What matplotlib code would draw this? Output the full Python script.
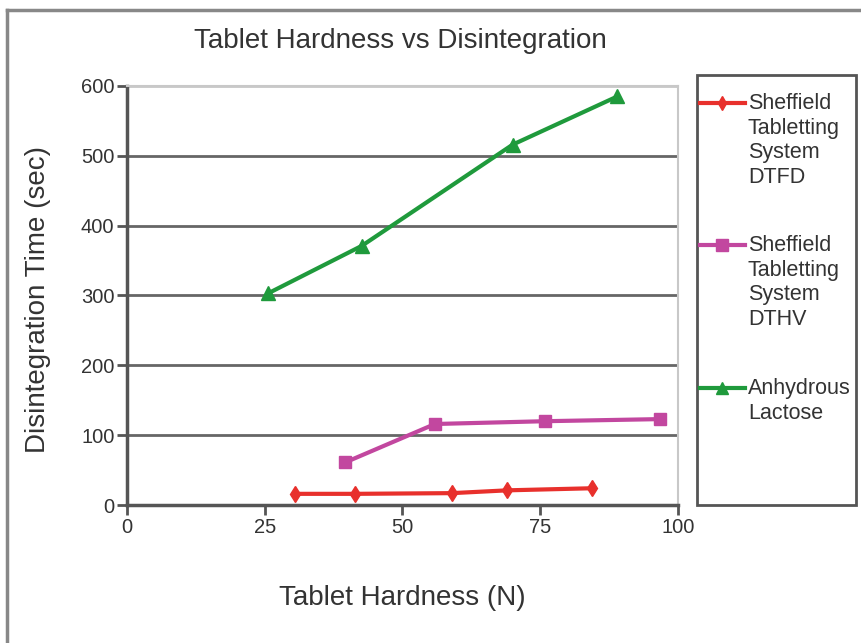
import matplotlib.pyplot as plt
from matplotlib.lines import Line2D
from matplotlib.patches import Rectangle

plt.rcParams["font.family"] = ["Liberation Sans", "DejaVu Sans"]

# hardness (N) and disintegration time (sec) for each formulation
dtfd_x = [30.5, 41.4, 59.0, 69.0, 84.4]
dtfd_y = [16, 16, 17, 21, 24]
dthv_x = [39.6, 55.9, 75.9, 96.7]
dthv_y = [61, 116, 120, 123]
lact_x = [25.6, 42.6, 70.0, 89.0]
lact_y = [303, 371, 516, 585]

labels = ["Sheffield\nTabletting\nSystem\nDTFD",
          "Sheffield\nTabletting\nSystem\nDTHV",
          "Anhydrous\nLactose"]
colors = ["#e8302c", "#c2479f", "#1f9a3c"]
markers = ["d", "s", "^"]
msizes = [8, 9, 10]

txt = "#333333"
W, H = 862, 643
fig = plt.figure(figsize=(W / 100, H / 100), dpi=100)
ax = fig.add_axes([0.1473, 0.2146, 0.6392, 0.6517])

series = [(dtfd_x, dtfd_y), (dthv_x, dthv_y), (lact_x, lact_y)]
for (xs, ys), c, m, ms in zip(series, colors, markers, msizes):
    ax.plot(xs, ys, color=c, lw=3, marker=m, ms=ms)

ax.set_xlim(0, 100)
ax.set_ylim(0, 600)
ax.set_xticks([0, 25, 50, 75, 100])
ax.set_yticks(range(0, 601, 100))
ax.yaxis.grid(True, color="#666666", lw=2)
ax.get_ygridlines()[-1].set_color("#c8c8c8")
ax.set_axisbelow(True)
for s in ["top", "right"]:
    ax.spines[s].set_color("#c8c8c8")
    ax.spines[s].set_linewidth(1.5)
for s in ["left", "bottom"]:
    ax.spines[s].set_color("#555555")
    ax.spines[s].set_linewidth(2.5)
ax.tick_params(colors="#555555", width=2, length=7, labelsize=14.5,
               labelcolor=txt, pad=2)

fig.text(0.464, 1 - 48 / H, "Tablet Hardness vs Disintegration", fontsize=20,
         color=txt, ha="center", va="baseline")
ax.set_xlabel("Tablet Hardness (N)", fontsize=20, color=txt)
ax.xaxis.set_label_coords(0.5, -0.19)
ax.set_ylabel("Disintegration Time (sec)", fontsize=20, color=txt)
ax.yaxis.set_label_coords(-0.138, 0.49)

# legend box on the right, one entry per series
fig.add_artist(Rectangle((697 / W, 1 - 505 / H), 159 / W, 430 / H,
                         transform=fig.transFigure, fill=False,
                         edgecolor="#555555", lw=2))
entry_y = [103, 245, 388]
for lab, c, m, ms, y in zip(labels, colors, markers, msizes, entry_y):
    fy = 1 - y / H
    fig.add_artist(Line2D([700 / W, 745 / W], [fy, fy], transform=fig.transFigure,
                          color=c, lw=3))
    fig.add_artist(Line2D([722 / W], [fy], transform=fig.transFigure,
                          color=c, marker=m, ms=ms - 1))
    fig.text(748 / W, 1 - (y - 10) / H, lab, fontsize=15.5, color=txt,
             ha="left", va="top", linespacing=1.22)

# outer chart border
fig.add_artist(Line2D([0.008, 0.008], [0, 0.984], transform=fig.transFigure,
                      color="#888888", lw=2.5))
fig.add_artist(Line2D([0.008, 1], [0.984, 0.984], transform=fig.transFigure,
                      color="#888888", lw=2.5))

fig.savefig("out.png", dpi=100)
